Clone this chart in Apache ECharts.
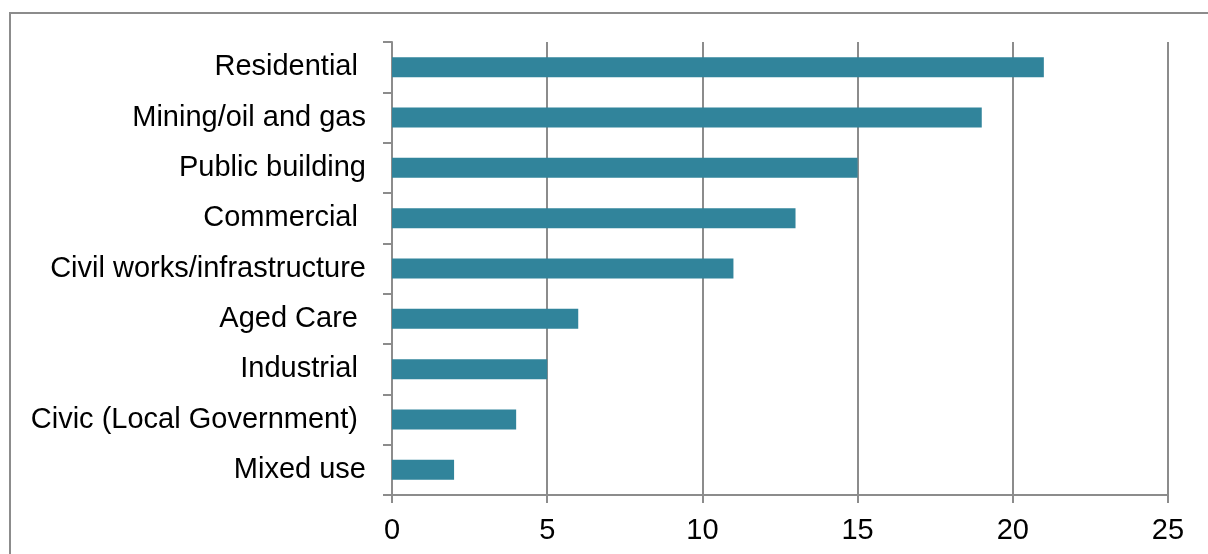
<!DOCTYPE html>
<html><head><meta charset="utf-8">
<script src="https://cdn.jsdelivr.net/npm/echarts@6/dist/echarts.min.js"></script>
<style>html,body{margin:0;padding:0;background:#fff}#c{width:1208px;height:554px}</style>
</head><body><div id="c"></div>
<script>
const categories = ["Residential ", "Mining/oil and gas", "Public building", "Commercial ", "Civil works/infrastructure", "Aged Care ", "Industrial ", "Civic (Local Government) ", "Mixed use"];
const values = [21, 19, 15, 13, 11, 6, 5, 4, 2];
const xTicks = { min: 0, max: 25, interval: 5 };

const chart = echarts.init(document.getElementById('c'));
const grey = '#8c8c8c';
chart.setOption({
  animation: false,
  textStyle: { fontFamily: 'Liberation Sans, Arial, sans-serif' },
  graphic: [{
    type: 'rect', shape: { x: 10, y: 13, width: 1400, height: 700 },
    style: { fill: 'none', stroke: grey, lineWidth: 2 }, silent: true, z: -1
  }],
  grid: { left: 392, right: 40, top: 42, bottom: 59, containLabel: false },
  xAxis: {
    type: 'value', min: xTicks.min, max: xTicks.max, interval: xTicks.interval,
    axisLine: { show: true, lineStyle: { color: grey, width: 2 } },
    axisTick: { show: true, length: 8, lineStyle: { color: grey, width: 2 } },
    splitLine: { show: true, lineStyle: { color: grey, width: 2 } },
    axisLabel: { color: '#000', fontSize: 29, margin: 21, fontFamily: 'Liberation Sans' }
  },
  yAxis: {
    type: 'category', data: categories, inverse: true,
    axisLine: { show: true, lineStyle: { color: grey, width: 2 } },
    axisTick: { show: true, length: 9, lineStyle: { color: grey, width: 2 } },
    axisLabel: { color: '#000', fontSize: 29, margin: 26, fontFamily: 'Liberation Sans' }
  },
  series: [{
    type: 'bar', data: values, barWidth: 20,
    itemStyle: { color: '#31849B' }
  }]
});
</script></body></html>
